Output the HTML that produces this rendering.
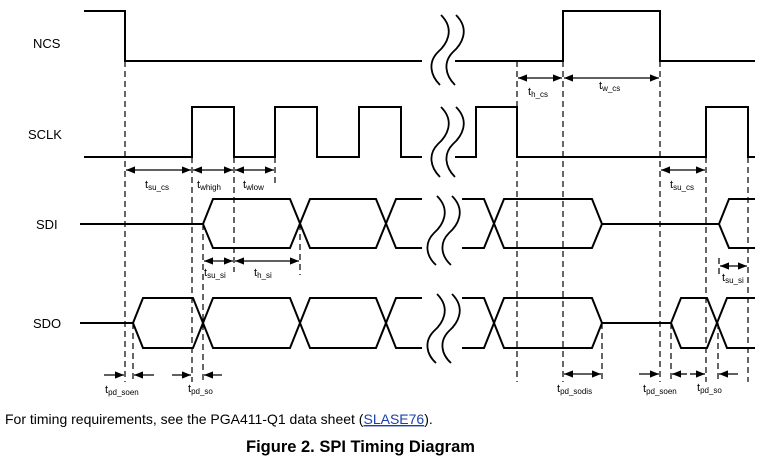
<!DOCTYPE html>
<html><head><meta charset="utf-8"><style>
html,body{margin:0;padding:0;background:#fff;width:765px;height:457px;overflow:hidden}
svg{display:block}
text{font-family:"Liberation Sans",Arial,sans-serif;fill:#000}
</style></head><body>
<svg width="765" height="457" viewBox="0 0 765 457" xmlns="http://www.w3.org/2000/svg">
<defs>
<marker id="a" viewBox="0 0 10 10" refX="10" refY="5" markerWidth="7" markerHeight="7" orient="auto-start-reverse"><path d="M0,1 L10,5 L0,9 z" fill="#000"/></marker>
</defs>
<g font-size="13">
<text x="33" y="48">NCS</text>
<text x="28" y="139">SCLK</text>
<text x="36" y="229">SDI</text>
<text x="33" y="328">SDO</text>
</g>
<g fill="none" stroke="#000" stroke-width="2">
<!-- NCS -->
<polyline points="84,11 125,11 125,61 422,61"/>
<polyline points="455,61 563,61 563,11 660,11 660,61 755,61"/>
<!-- SCLK -->
<polyline points="84,157 192,157 192,107 234,107 234,157 275,157 275,107 317,107 317,157 359,157 359,107 401,107 401,157 422,157"/>
<polyline points="455,157 476,157 476,107 517,107 517,157 706,157 706,107 748,107 748,157 755,157"/>
<!-- SDI -->
<polyline points="80,224 203,224 213,199 290,199 310,248 376,248 396,199 422,199"/>
<polyline points="203,224 213,248 290,248 310,199 376,199 396,248 422,248"/>
<polyline points="462,199 484,199 504,248 592,248 602,224 719,224 729,199 755,199"/>
<polyline points="462,248 484,248 504,199 592,199 602,224"/>
<polyline points="719,224 729,248 755,248"/>
<!-- SDO -->
<polyline points="80,323 133,323 143,298 193,298 213,348 290,348 310,298 376,298 396,348 422,348"/>
<polyline points="133,323 143,348 193,348 213,298 290,298 310,348 376,348 396,298 422,298"/>
<polyline points="462,298 484,298 504,348 592,348 602,323 671,323 681,298 707,298 727,348 755,348"/>
<polyline points="462,348 484,348 504,298 592,298 602,323"/>
<polyline points="671,323 681,348 707,348 727,298 755,298"/>
</g>
<!-- breaks -->
<g fill="none" stroke="#000" stroke-width="1.8">
<path d="M441,15 C456,30 446,45 438,52 C428,62 430,75 440,85"/>
<path d="M456,15 C471,30 461,45 453,52 C443,62 445,75 455,85"/>
<path d="M441,107 C456,122 446,137 438,144 C428,154 430,167 440,177"/>
<path d="M456,107 C471,122 461,137 453,144 C443,154 445,167 455,177"/>
<path d="M437,196 C452,211 442,226 434,233 C424,243 426,256 436,265"/>
<path d="M452,196 C467,211 457,226 449,233 C439,243 441,256 451,265"/>
<path d="M437,294 C452,309 442,324 434,331 C424,341 426,354 436,363"/>
<path d="M452,294 C467,309 457,324 449,331 C439,341 441,354 451,363"/>
</g>
<!-- dashed -->
<g stroke="#000" stroke-width="1.2" stroke-dasharray="6,4">
<line x1="125" y1="61" x2="125" y2="382"/>
<line x1="133" y1="323" x2="133" y2="382"/>
<line x1="192" y1="157" x2="192" y2="382"/>
<line x1="203" y1="224" x2="203" y2="382"/>
<line x1="234" y1="157" x2="234" y2="272"/>
<line x1="275" y1="157" x2="275" y2="183"/>
<line x1="300" y1="224" x2="300" y2="275"/>
<line x1="517" y1="61" x2="517" y2="382"/>
<line x1="563" y1="61" x2="563" y2="382"/>
<line x1="602" y1="323" x2="602" y2="382"/>
<line x1="660" y1="61" x2="660" y2="382"/>
<line x1="671" y1="323" x2="671" y2="382"/>
<line x1="706" y1="157" x2="706" y2="382"/>
<line x1="718" y1="323" x2="718" y2="382"/>
<line x1="719" y1="258" x2="719" y2="275"/>
<line x1="748" y1="157" x2="748" y2="382"/>
</g>
<!-- arrows -->
<g stroke="#000" stroke-width="1.3" marker-start="url(#a)" marker-end="url(#a)">
<line x1="126" y1="170" x2="191" y2="170"/>
<line x1="193" y1="170" x2="233" y2="170"/>
<line x1="235" y1="170" x2="274" y2="170"/>
<line x1="518" y1="78" x2="562" y2="78"/>
<line x1="564" y1="78" x2="659" y2="78"/>
<line x1="661" y1="170" x2="705" y2="170"/>
<line x1="204" y1="261" x2="233" y2="261"/>
<line x1="235" y1="261" x2="299" y2="261"/>
<line x1="720" y1="266" x2="747" y2="266"/>
<line x1="564" y1="374" x2="601" y2="374"/>
</g>
<g stroke="#000" stroke-width="1.3" marker-end="url(#a)">
<line x1="104" y1="375" x2="124" y2="375"/>
<line x1="154" y1="375" x2="134" y2="375"/>
<line x1="172" y1="375" x2="191" y2="375"/>
<line x1="222" y1="375" x2="204" y2="375"/>
<line x1="639" y1="374" x2="659" y2="374"/>
<line x1="687" y1="374" x2="672" y2="374"/>
<line x1="690" y1="374" x2="705" y2="374"/>
<line x1="738" y1="374" x2="719" y2="374"/>
</g>
<g font-size="11">
<text x="145" y="188">t<tspan font-size="8" dy="2">su_cs</tspan></text>
<text x="197" y="188">t<tspan font-size="8" dy="2">whigh</tspan></text>
<text x="243" y="188">t<tspan font-size="8" dy="2">wlow</tspan></text>
<text x="528" y="95">t<tspan font-size="8" dy="2">h_cs</tspan></text>
<text x="599" y="89">t<tspan font-size="8" dy="2">w_cs</tspan></text>
<text x="670" y="188">t<tspan font-size="8" dy="2">su_cs</tspan></text>
<text x="204" y="276">t<tspan font-size="8" dy="2">su_si</tspan></text>
<text x="254" y="276">t<tspan font-size="8" dy="2">h_si</tspan></text>
<text x="722" y="281">t<tspan font-size="8" dy="2">su_si</tspan></text>
<text x="105" y="393">t<tspan font-size="8" dy="2">pd_soen</tspan></text>
<text x="188" y="392">t<tspan font-size="8" dy="2">pd_so</tspan></text>
<text x="557" y="392">t<tspan font-size="8" dy="2">pd_sodis</tspan></text>
<text x="643" y="392">t<tspan font-size="8" dy="2">pd_soen</tspan></text>
<text x="697" y="391">t<tspan font-size="8" dy="2">pd_so</tspan></text>
</g>
<text x="5" y="424" font-size="14">For timing requirements, see the PGA411-Q1 data sheet (<tspan fill="#1a3fb0" text-decoration="underline">SLASE76</tspan>).</text>
<text x="246" y="452" font-size="16.5" font-weight="bold">Figure 2. SPI Timing Diagram</text>
</svg>
</body></html>
